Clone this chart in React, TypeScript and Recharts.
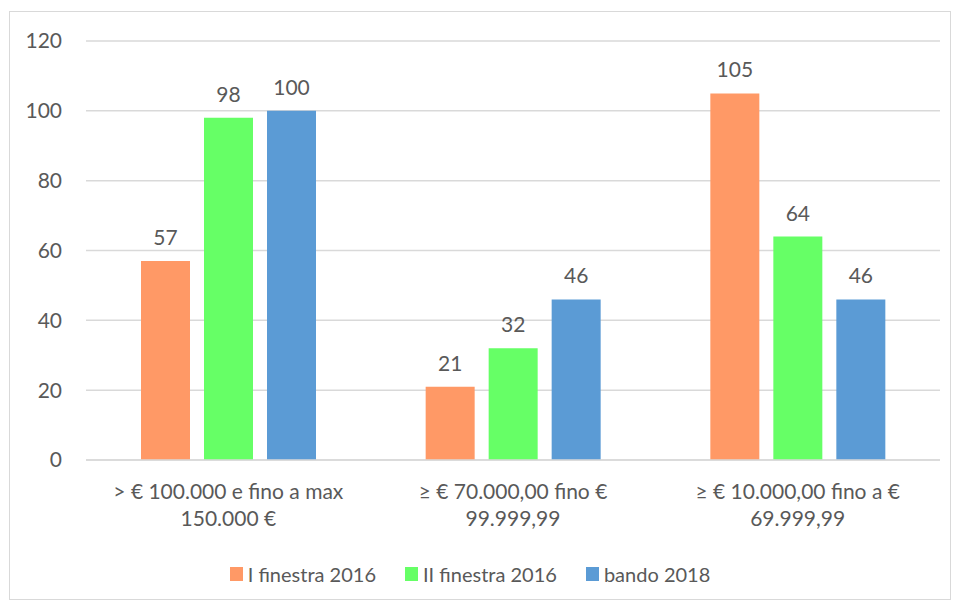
import React from "react";
import {
  BarChart,
  Bar,
  XAxis,
  YAxis,
  CartesianGrid,
  Legend,
  LabelList,
} from "recharts";

const categories = [
  "> € 100.000 e fino a max|150.000 €",
  "≥ € 70.000,00 fino €|99.999,99",
  "≥ € 10.000,00 fino a €|69.999,99",
];
const finestra1 = [57, 21, 105];
const finestra2 = [98, 32, 64];
const bando2018 = [100, 46, 46];
const yTicks = [0, 20, 40, 60, 80, 100, 120];

const data = categories.map((name, i) => ({
  name,
  f1: finestra1[i],
  f2: finestra2[i],
  b18: bando2018[i],
}));

const FONT = "Lato, 'Open Sans', sans-serif";
const TEXT = "#595959";
const SIZE = 21;
const LEGEND_SIZE = 20;

function CategoryTick(props: any) {
  const { x, y, payload } = props;
  const lines = String(payload.value).split("|");
  return (
    <text x={x} y={y} textAnchor="middle" fill={TEXT} fontSize={SIZE} fontFamily={FONT}>
      {lines.map((line, i) => (
        <tspan key={i} x={x} dy={i === 0 ? 31 : 27}>
          {line}
        </tspan>
      ))}
    </text>
  );
}

function LegendContent(props: any) {
  const { payload } = props;
  return (
    <div style={{ display: "flex", justifyContent: "center", alignItems: "center", height: 40 }}>
      {payload.map((entry: any, i: number) => (
        <div
          key={entry.value}
          style={{
            display: "flex",
            alignItems: "center",
            marginLeft: i === 0 ? 0 : 29,
            fontFamily: FONT,
            fontSize: LEGEND_SIZE,
            color: TEXT,
          }}
        >
          <span style={{ width: 13, height: 14, background: entry.color, marginRight: 5, display: "inline-block" }} />
          {entry.value}
        </div>
      ))}
    </div>
  );
}

export default function App() {
  return (
    <div style={{ position: "absolute", left: 0, top: 0, width: 957, height: 607, background: "#fff" }}>
      <div
        style={{
          position: "absolute",
          left: 9,
          top: 11,
          width: 942,
          height: 589,
          border: "1px solid #d9d9d9",
          boxSizing: "border-box",
        }}
      />
      <div style={{ position: "absolute", left: 0, top: 0 }}>
        <BarChart
          width={957}
          height={607}
          data={data}
          margin={{ top: 41, right: 17, left: 0, bottom: 13 }}
          barSize={49}
          barGap={14}
        >
          <CartesianGrid vertical={false} stroke="#d9d9d9" strokeWidth={1.5} />
          <XAxis
            dataKey="name"
            height={94}
            axisLine={{ stroke: "#d9d9d9", strokeWidth: 1.5 }}
            tickLine={false}
            tick={<CategoryTick />}
            interval={0}
          />
          <YAxis
            width={86}
            domain={[0, 120]}
            ticks={yTicks}
            axisLine={false}
            tickLine={false}
            tickMargin={18}
            tick={{ fill: TEXT, fontSize: SIZE, fontFamily: FONT }}
          />
          <Legend verticalAlign="bottom" height={40} content={<LegendContent />} />
          <Bar dataKey="f1" name="I finestra 2016" fill="#FF9966" isAnimationActive={false}>
            <LabelList dataKey="f1" position="top" offset={16} fill={TEXT} fontSize={SIZE} fontFamily={FONT} />
          </Bar>
          <Bar dataKey="f2" name="II finestra 2016" fill="#66FF66" isAnimationActive={false}>
            <LabelList dataKey="f2" position="top" offset={16} fill={TEXT} fontSize={SIZE} fontFamily={FONT} />
          </Bar>
          <Bar dataKey="b18" name="bando 2018" fill="#5B9BD5" isAnimationActive={false}>
            <LabelList dataKey="b18" position="top" offset={16} fill={TEXT} fontSize={SIZE} fontFamily={FONT} />
          </Bar>
        </BarChart>
      </div>
    </div>
  );
}
